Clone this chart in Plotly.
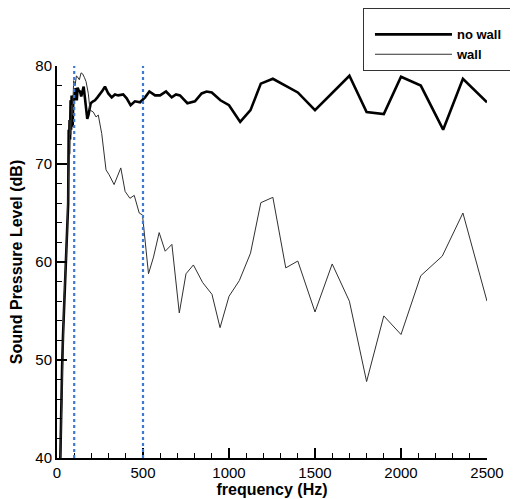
import plotly.graph_objects as go

# ---- data ----
freq_nowall = [15, 20, 25, 30, 35, 40, 45, 50, 55, 60, 65, 68, 70, 73, 76, 79, 82, 85, 88, 91,
               95, 100, 105, 110, 115, 120, 126, 134, 141, 148, 155, 162, 168, 176, 183, 190,
               196, 210, 221, 235, 250, 265, 279, 298, 318, 337, 356, 385, 405, 428, 453, 483,
               512, 537, 570, 599, 634, 667, 692, 715, 758, 802, 841, 870, 900, 950, 1000,
               1065, 1125, 1185, 1255, 1330, 1400, 1500, 1700, 1800, 1900, 2000, 2115, 2245,
               2360, 2500]
spl_nowall = [36, 42, 46, 49.5, 52.5, 55, 57, 59, 61, 63, 66, 73.5, 71, 74.5, 72.5, 76.5, 73.5,
              77, 74, 73.8, 77, 76.5, 77.7, 77.6, 76.5, 77.8, 77.5, 77.4, 76.9, 77.6, 77.9, 76.8,
              75.5, 74.6, 75.0, 75.8, 76.2, 76.4, 76.5, 76.8, 77.1, 77.5, 77.9, 77.2, 76.8, 77.1,
              77.0, 77.1, 76.7, 76.0, 76.4, 76.3, 76.8, 77.4, 77.0, 77.0, 77.4, 76.8, 77.1, 77.0,
              76.2, 76.4, 77.2, 77.4, 77.3, 76.5, 76.0, 74.3, 75.5, 78.2, 78.7, 78.0, 77.3, 75.5,
              79.0, 75.3, 75.1, 78.9, 78.0, 73.5, 78.7, 76.3]

freq_wall = [15, 22, 28, 35, 42, 50, 57, 63, 68, 72, 76, 80, 85, 90, 97, 105, 113, 118, 130,
             140, 149, 160, 169, 182, 192, 211, 227, 240, 260, 285, 303, 332, 355, 371, 396,
             424, 449, 478, 497, 532, 561, 594, 629, 668, 711, 750, 793, 847, 901, 948, 1000,
             1060, 1125, 1185, 1255, 1330, 1400, 1500, 1600, 1700, 1800, 1900, 2000, 2115,
             2240, 2360, 2500]
spl_wall = [36, 42, 47, 52, 56.5, 59.5, 62, 66, 70, 72, 74.5, 73, 76, 75, 78.5, 78, 79, 78.9,
            78.6, 79.3, 79.2, 78.8, 78.4, 77.2, 75.5, 75.3, 74.8, 75.0, 73.1, 69.4, 68.9, 67.9,
            69.0, 69.6, 67.2, 66.5, 66.8, 65.0, 64.8, 58.8, 60.5, 63.0, 61.1, 61.8, 54.8, 58.8,
            59.7, 57.9, 56.7, 53.3, 56.5, 58.1, 60.9, 66.05, 66.6, 59.4, 60.1, 54.9, 59.8, 56.0,
            47.8, 54.5, 52.6, 58.6, 60.6, 65.0, 56.0]

ref_freqs = [100, 500]

x_ticks = [0, 500, 1000, 1500, 2000, 2500]
y_ticks = [40, 50, 60, 70, 80]

FONT = "Liberation Sans, Arial, sans-serif"
PAD = "&nbsp;" * 6

fig = go.Figure()
fig.add_trace(go.Scatter(x=freq_nowall, y=spl_nowall, mode="lines", name="<b>no wall</b>" + PAD,
                         line=dict(color="black", width=2.6)))
fig.add_trace(go.Scatter(x=freq_wall, y=spl_wall, mode="lines", name="<b>wall</b>" + PAD,
                         line=dict(color="#303030", width=1)))

for f in ref_freqs:
    fig.add_shape(type="line", x0=f, x1=f, xref="x", y0=0, y1=1, yref="paper",
                  line=dict(color="#3a7ad0", width=2.2, dash="dot"), layer="above")

fig.update_layout(
    width=510, height=491,
    margin=dict(l=49, r=31, t=58, b=41, autoexpand=False),
    paper_bgcolor="white", plot_bgcolor="white",
    font=dict(family=FONT, size=15, color="black"),
    showlegend=True,
    legend=dict(xref="container", yref="container", x=0.696, y=1.0,
                xanchor="left", yanchor="top",
                bordercolor="#333", borderwidth=1, bgcolor="white",
                font=dict(size=13, family=FONT), itemwidth=77, indentation=6,
                title=dict(text="&nbsp;", font=dict(size=8)),
                tracegroupgap=0),
    xaxis=dict(range=[0, 2500], tickvals=x_ticks, ticktext=[str(v) for v in x_ticks],
               automargin=False,
               showgrid=False, zeroline=False, showline=True, linecolor="black", linewidth=2,
               ticks="inside", ticklen=10, tickwidth=2, tickcolor="black",
               minor=dict(ticks="inside", ticklen=5, tickwidth=1, dtick=100, tickcolor="black"),
               title=dict(text="<b>frequency (Hz)</b>", font=dict(size=16), standoff=2),
               tickfont=dict(size=15)),
    yaxis=dict(range=[40, 80], tickvals=y_ticks, ticktext=[str(v) for v in y_ticks],
               automargin=False,
               showgrid=False, zeroline=False, showline=True, linecolor="black", linewidth=2,
               ticks="inside", ticklen=10, tickwidth=2, tickcolor="black",
               minor=dict(ticks="inside", ticklen=5, tickwidth=1, dtick=2, tickcolor="black"),
               title=dict(text="<b>Sound Pressure Level (dB)</b>", font=dict(size=16), standoff=12),
               tickfont=dict(size=15)),
)

fig.write_html("out.html")
